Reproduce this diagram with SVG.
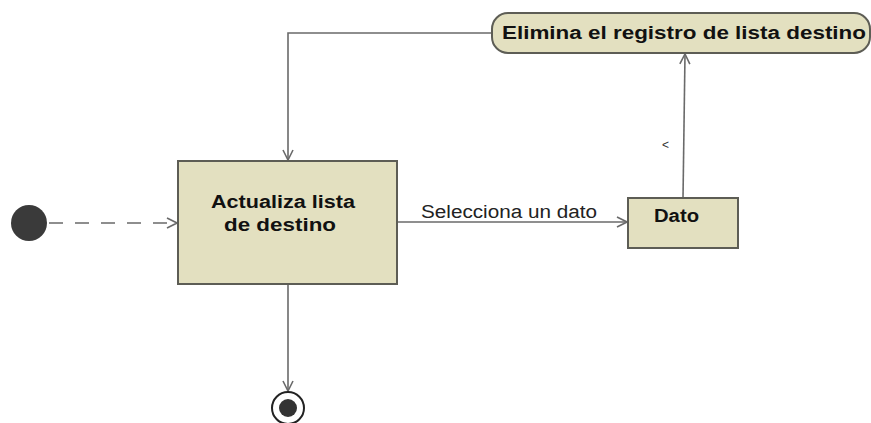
<svg xmlns="http://www.w3.org/2000/svg" width="871" height="423" viewBox="0 0 871 423">
<style>
.node{fill:#e3e0c0;stroke:#5d5d55;stroke-width:2}
.lbl{font-family:"Liberation Sans",Arial,sans-serif;font-weight:bold;font-size:18px;fill:#111}
.edge{fill:none;stroke:#6a6a6a;stroke-width:1.6}
.etxt{font-family:"Liberation Sans",Arial,sans-serif;font-size:18px;fill:#222}
</style>
<defs>
<marker id="arr" markerWidth="12" markerHeight="12" refX="11" refY="6" orient="auto" markerUnits="userSpaceOnUse">
<path d="M1,1 L11,6 L1,11" fill="none" stroke="#6a6a6a" stroke-width="1.6"/>
</marker>
</defs>
<rect width="871" height="423" fill="#ffffff"/>
<g id="connectors">
<line class="edge" x1="49" y1="223" x2="177" y2="223" stroke-dasharray="14,12" marker-end="url(#arr)"/>
<line class="edge" x1="397" y1="222" x2="627" y2="222" marker-end="url(#arr)"/>
<text class="etxt" x="421" y="218" textLength="176" lengthAdjust="spacingAndGlyphs">Selecciona un dato</text>
<line class="edge" x1="683" y1="198" x2="685" y2="54" marker-end="url(#arr)"/>
<text x="662" y="149" font-family="Liberation Sans,Arial,sans-serif" font-size="12" fill="#333">&lt;</text>
<polyline class="edge" points="492,33 288,33 288,160" marker-end="url(#arr)"/>
<line class="edge" x1="288" y1="284" x2="288" y2="391" marker-end="url(#arr)"/>
</g>
<g id="initial">
<circle cx="29" cy="223" r="18" fill="#3a3a3a"/>
</g>
<g id="actualiza">
<rect class="node" x="178" y="161" width="219" height="123"/>
<text class="lbl" x="211" y="208" textLength="144" lengthAdjust="spacingAndGlyphs">Actualiza lista</text>
<text class="lbl" x="224" y="231" textLength="112" lengthAdjust="spacingAndGlyphs">de destino</text>
</g>
<g id="dato">
<rect class="node" x="628" y="198" width="110" height="50"/>
<text class="lbl" x="654" y="222" textLength="45" lengthAdjust="spacingAndGlyphs">Dato</text>
</g>
<g id="elimina">
<rect class="node" x="492" y="13" width="378" height="40" rx="16" ry="16"/>
<text class="lbl" x="502" y="39" textLength="364" lengthAdjust="spacingAndGlyphs">Elimina el registro de lista destino</text>
</g>
<g id="final">
<circle cx="288" cy="408" r="16" fill="#ffffff" stroke="#222" stroke-width="2"/>
<circle cx="288" cy="408" r="9" fill="#333"/>
</g>
</svg>
